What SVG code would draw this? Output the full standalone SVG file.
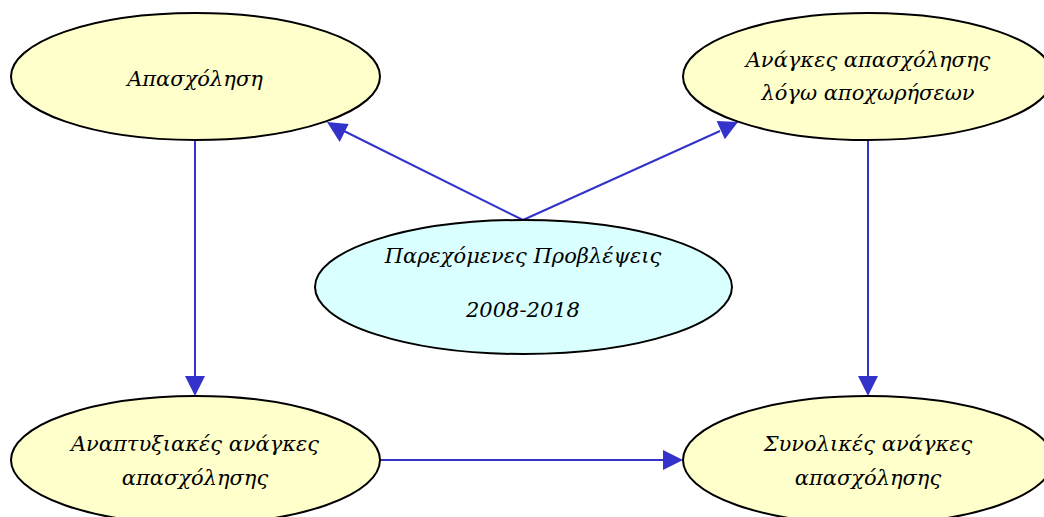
<svg xmlns="http://www.w3.org/2000/svg" width="1044" height="517" viewBox="0 0 1044 517">
<style>
.n{fill:#FFFFCC;stroke:#000;stroke-width:2}
.c{fill:#D9FFFF;stroke:#000;stroke-width:2}
.t{font-family:"DejaVu Serif","Liberation Serif",serif;font-style:italic;font-size:21px;fill:#000;text-anchor:middle}
.l{stroke:#3333CC;stroke-width:2;fill:none}
.a{fill:#3333CC}
</style>
<rect width="1044" height="517" fill="#fff"/>
<g id="edges">
<line class="l" x1="195" y1="140" x2="195" y2="378"/>
<path class="a" d="M185,376 L205,376 L195,396 z"/>
<line class="l" x1="868" y1="140" x2="868" y2="378"/>
<path class="a" d="M858,376 L878,376 L868,396 z"/>
<line class="l" x1="380" y1="460" x2="665" y2="460"/>
<path class="a" d="M663,450 L663,470 L683,460 z"/>
<line class="l" x1="523" y1="220" x2="344" y2="131"/>
<path class="a" d="M327,122 L348.6,124.1 L339.7,142 z"/>
<line class="l" x1="523" y1="220" x2="720" y2="131"/>
<path class="a" d="M738,122 L724.8,139.2 L716.6,121 z"/>
</g>
<g id="n1"><ellipse class="n" cx="195.5" cy="76.5" rx="184.5" ry="63.5"/><text class="t" x="195" y="86">Απασχόληση</text></g>
<g id="n2"><ellipse class="n" cx="868" cy="76.5" rx="185" ry="63.5"/><text class="t" x="868" y="67">Ανάγκες απασχόλησης</text><text class="t" x="868" y="100">λόγω αποχωρήσεων</text></g>
<g id="n3"><ellipse class="c" cx="523.5" cy="287" rx="208.5" ry="67"/><text class="t" x="523" y="263">Παρεχόμενες Προβλέψεις</text><text class="t" x="523" y="317">2008-2018</text></g>
<g id="n4"><ellipse class="n" cx="195.5" cy="460" rx="184.5" ry="64"/><text class="t" x="195" y="451">Αναπτυξιακές ανάγκες</text><text class="t" x="195" y="485">απασχόλησης</text></g>
<g id="n5"><ellipse class="n" cx="868" cy="460" rx="185" ry="64"/><text class="t" x="868" y="451">Συνολικές ανάγκες</text><text class="t" x="868" y="485">απασχόλησης</text></g>
</svg>
